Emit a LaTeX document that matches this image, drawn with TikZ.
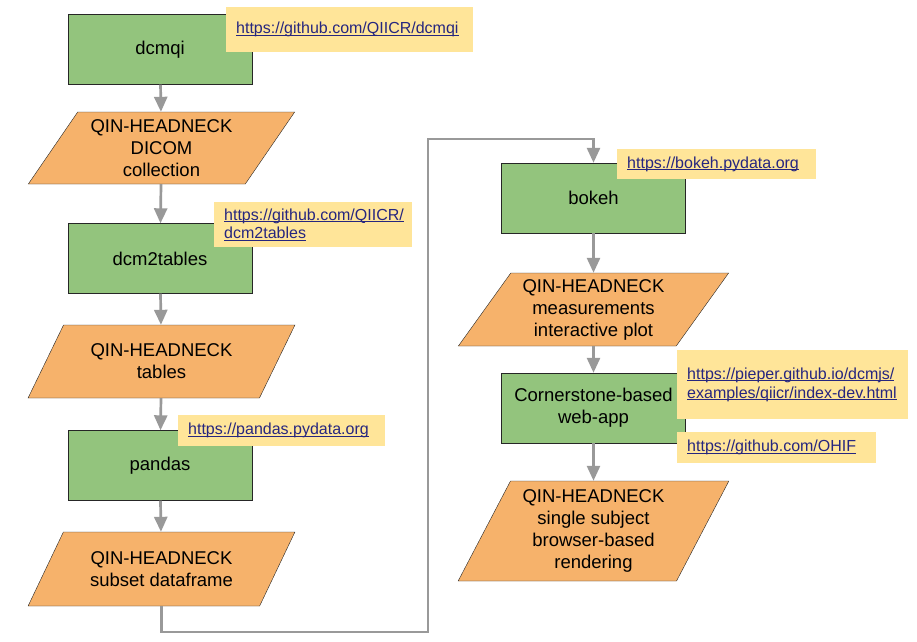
\documentclass[tikz,border=0pt]{standalone}
\usepackage{fontspec}
\setmainfont{Liberation Sans}
\usetikzlibrary{shapes.geometric,arrows.meta}
\definecolor{toolgreen}{HTML}{93C47D}
\definecolor{dataorange}{HTML}{F6B26B}
\definecolor{urlyellow}{HTML}{FFE599}
\definecolor{urlblue}{HTML}{26267F}
\definecolor{flowgray}{HTML}{999999}
\newcommand{\lnk}[1]{\leavevmode\setbox0\hbox{#1}\rlap{\rule[-1.8pt]{\wd0}{0.9pt}}\box0}
\tikzset{
	tool/.style={draw=black!85, fill=toolgreen, minimum width=184pt, minimum height=70pt, align=center, font=\fontsize{18.5}{22}\selectfont},
	data/.style={trapezium, trapezium stretches=true, draw=black!85, fill=dataorange, inner sep=0pt, align=center, font=\fontsize{18.5}{22}\selectfont},
	url/.style={fill=urlyellow, anchor=north west, inner xsep=10pt, inner ysep=0pt, align=left, text=urlblue, font=\fontsize{16}{18.5}\selectfont},
	flow/.style={draw=flowgray, line width=2.7pt, -{Triangle[length=15pt,width=13pt]}}
}

\begin{document}
\begin{tikzpicture}[x=1pt,y=-1pt]
			%%%%% START %%%%%
			\useasboundingbox (0,0) rectangle (917,641);
			
			% left column
			\node[tool] (dcmqi) at (160,49.5) {dcmqi};
			\node[data, minimum width=267pt, minimum height=72pt, trapezium left angle=53.8, trapezium right angle=126.2] (dicom) at (161.5,148) {QIN-HEADNECK\\DICOM\\collection};
			\node[tool] (dcm2tables) at (160,258.5) {dcm2tables};
			\node[data, minimum width=267pt, minimum height=73pt, trapezium left angle=53.8, trapezium right angle=126.2] (tables) at (161.5,361.5) {QIN-HEADNECK\\tables};
			\node[tool] (pandas) at (160,465.5) {pandas};
			\node[data, minimum width=267pt, minimum height=74pt, trapezium left angle=53.8, trapezium right angle=126.2] (subset) at (161.5,569) {QIN-HEADNECK\\subset dataframe};
			
			% right column
			\node[tool] (bokeh) at (593.5,198) {bokeh};
			\node[data, minimum width=271pt, minimum height=73pt, trapezium left angle=53.5, trapezium right angle=126.5] (plot) at (593.5,309.5) {QIN-HEADNECK\\measurements\\interactive plot};
			\node[tool] (webapp) at (593.5,408) {Cornerstone-based\\web-app};
			\node[data, minimum width=271pt, minimum height=100pt, trapezium left angle=61.6, trapezium right angle=118.4] (render) at (593.5,531) {QIN-HEADNECK\\single subject\\browser-based\\rendering};
			
			\coordinate (loopB) at (428,632);
			\coordinate (loopT) at (428,139);
			
			\draw[flow] (dcmqi) -- (dicom);
			\draw[flow] (dicom) -- (dcm2tables);
			\draw[flow] (dcm2tables) -- (tables);
			\draw[flow] (tables) -- (pandas);
			\draw[flow] (pandas) -- (subset);
			\draw[flow] (subset) |- (loopB) -- (loopT) -| (bokeh);
			\draw[flow] (bokeh) -- (plot);
			\draw[flow] (plot) -- (webapp);
			\draw[flow] (webapp) -- (render);
			
			% links
			\node[url, text width=227pt, minimum height=45pt] (urlDcmqi) at (226,7) {\lnk{https://github.com/QIICR/dcmqi}};
			\node[url, text width=178pt, minimum height=45pt] (urlTables) at (214,202) {\lnk{https://github.com/QIICR/}\\\lnk{dcm2tables}};
			\node[url, text width=187pt, minimum height=31pt] (urlPandas) at (178,415) {\lnk{https://pandas.pydata.org}};
			\node[url, text width=179pt, minimum height=30pt] (urlBokeh) at (617,149) {\lnk{https://bokeh.pydata.org}};
			\node[url, text width=211pt, minimum height=69pt] (urlDcmjs) at (677,350) {\lnk{https://pieper.github.io/dcmjs/}\\\lnk{examples/qiicr/index-dev.html}};
			\node[url, text width=179pt, minimum height=31pt] (urlOhif) at (677,432) {\lnk{https://github.com/OHIF}};
			
			%%%%% END %%%%%
\end{tikzpicture}
\end{document}
